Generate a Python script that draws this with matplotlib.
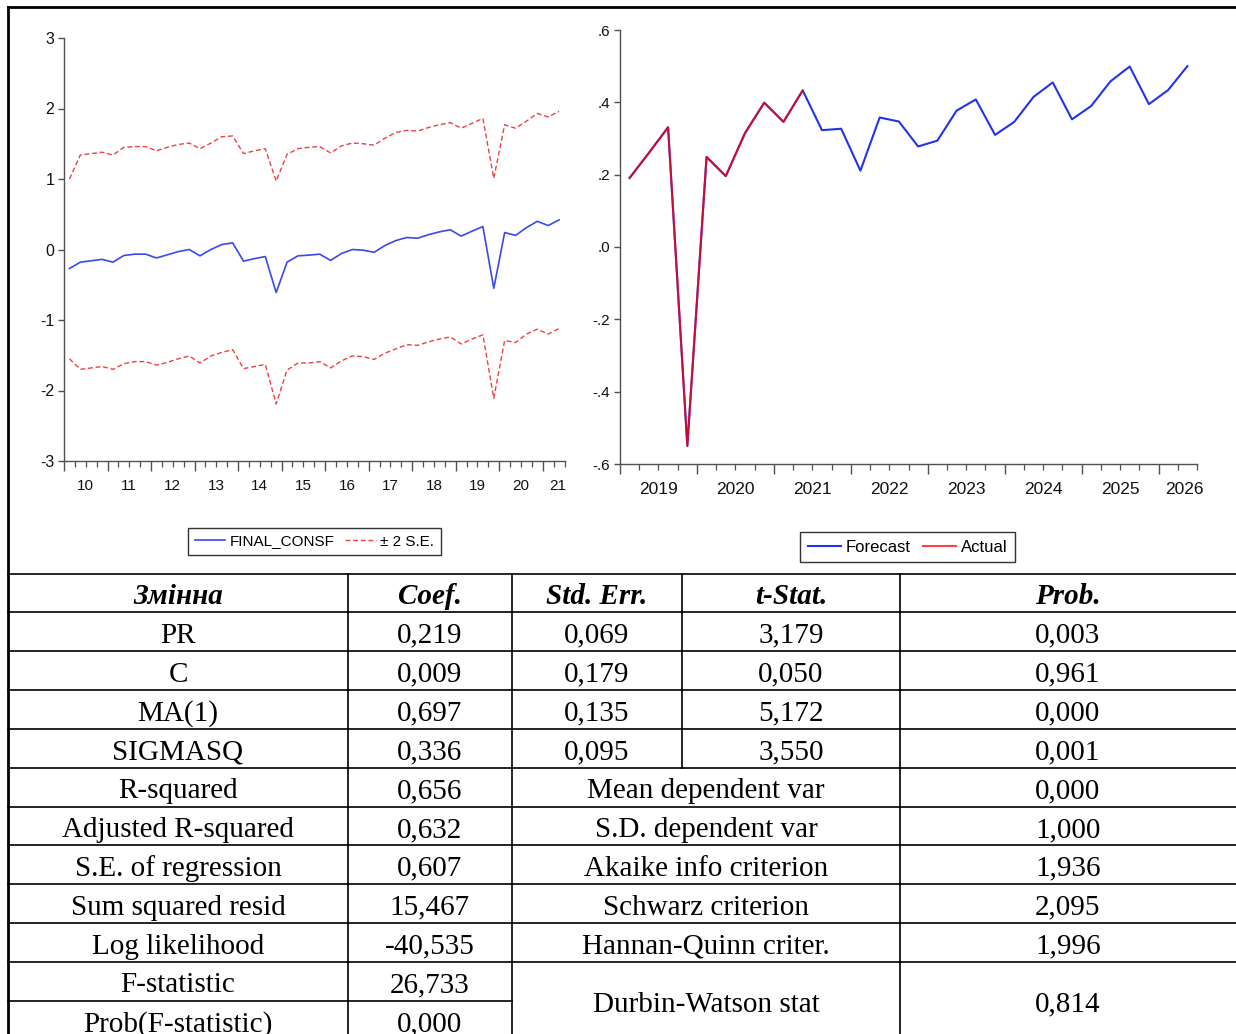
import matplotlib.pyplot as plt
import matplotlib.transforms as mtransforms

plt.rcParams['axes.unicode_minus'] = False

LABEL_FONT = ['Liberation Sans', 'DejaVu Sans']
TABLE_FONT = ['Liberation Serif', 'DejaVu Serif']

# static forecast, quarterly 2010Q1 - 2021Q2
left_start_year = 2010
final_consf = [-0.27, -0.18, -0.16, -0.14, -0.18, -0.085, -0.066, -0.066, -0.12, -0.075,
               -0.03, 0.0, -0.09, 0.0, 0.07, 0.094, -0.165, -0.13, -0.10, -0.61,
               -0.18, -0.09, -0.08, -0.066, -0.155, -0.057, 0.0, -0.01, -0.04, 0.057,
               0.127, 0.17, 0.16, 0.21, 0.25, 0.28, 0.19, 0.26, 0.325, -0.55,
               0.24, 0.20, 0.31, 0.40, 0.34, 0.42]
upper_2se = [1.00, 1.34, 1.36, 1.38, 1.34, 1.45, 1.46, 1.46, 1.40, 1.45,
             1.49, 1.51, 1.43, 1.51, 1.60, 1.61, 1.36, 1.40, 1.43, 0.97,
             1.35, 1.43, 1.45, 1.46, 1.37, 1.47, 1.51, 1.50, 1.48, 1.58,
             1.66, 1.69, 1.68, 1.73, 1.77, 1.80, 1.72, 1.79, 1.86, 1.01,
             1.77, 1.72, 1.82, 1.93, 1.88, 1.96]
lower_2se = [-1.55, -1.70, -1.68, -1.66, -1.70, -1.62, -1.59, -1.59, -1.64, -1.60,
             -1.55, -1.51, -1.61, -1.51, -1.46, -1.42, -1.69, -1.66, -1.63, -2.19,
             -1.71, -1.61, -1.61, -1.59, -1.68, -1.58, -1.51, -1.52, -1.56, -1.47,
             -1.41, -1.35, -1.36, -1.31, -1.27, -1.24, -1.34, -1.27, -1.21, -2.11,
             -1.29, -1.32, -1.20, -1.13, -1.20, -1.12]
left_year_labels = ["10", "11", "12", "13", "14", "15", "16", "17", "18", "19", "20", "21"]
left_yticks = [3, 2, 1, 0, -1, -2, -3]
left_ytick_labels = ["3", "2", "1", "0", "-1", "-2", "-3"]

# forecast vs actual, quarterly 2019Q1 - 2026Q2
right_start_year = 2019
forecast = [0.191, 0.26, 0.331, -0.55, 0.249, 0.196, 0.315, 0.399, 0.346, 0.433,
            0.323, 0.327, 0.211, 0.358, 0.347, 0.278, 0.294, 0.377, 0.408, 0.310,
            0.346, 0.415, 0.455, 0.353, 0.390, 0.458, 0.499, 0.395, 0.434, 0.500]
actual = [0.191, 0.26, 0.331, -0.55, 0.249, 0.196, 0.315, 0.399, 0.346, 0.433]
right_year_labels = ["2019", "2020", "2021", "2022", "2023", "2024", "2025", "2026"]
right_yticks = [0.6, 0.4, 0.2, 0.0, -0.2, -0.4, -0.6]
right_ytick_labels = [".6", ".4", ".2", ".0", "-.2", "-.4", "-.6"]

# estimation output
table_header = ["Змінна", "Coef.", "Std. Err.", "t-Stat.", "Prob."]
coef_rows = [
    ["PR", "0,219", "0,069", "3,179", "0,003"],
    ["C", "0,009", "0,179", "0,050", "0,961"],
    ["MA(1)", "0,697", "0,135", "5,172", "0,000"],
    ["SIGMASQ", "0,336", "0,095", "3,550", "0,001"],
]
stat_rows = [
    ["R-squared", "0,656", "Mean dependent var", "0,000"],
    ["Adjusted R-squared", "0,632", "S.D. dependent var", "1,000"],
    ["S.E. of regression", "0,607", "Akaike info criterion", "1,936"],
    ["Sum squared resid", "15,467", "Schwarz criterion", "2,095"],
    ["Log likelihood", "-40,535", "Hannan-Quinn criter.", "1,996"],
]
fstat_rows = [["F-statistic", "26,733"], ["Prob(F-statistic)", "0,000"]]
dw_stat = ["Durbin-Watson stat", "0,814"]


def quarter_x(start, n):
    return [start + (i + 0.5) / 4 for i in range(n)]


def style_eviews_axis(ax, start, n_quarters, year_labels, label_size, label_pad):
    for side in ("top", "right"):
        ax.spines[side].set_visible(False)
    for side in ("left", "bottom"):
        ax.spines[side].set_color("#505050")
        ax.spines[side].set_linewidth(1.0)
    end = start + n_quarters / 4
    ax.set_xlim(start, end)
    years = list(range(start, start + len(year_labels)))
    ax.set_xticks(years)
    ax.set_xticks([start + q / 4 for q in range(n_quarters + 1)], minor=True)
    ax.xaxis.set_ticklabels([])
    ax.tick_params(axis="x", which="major", direction="out", length=7, width=1.0, color="#505050")
    ax.tick_params(axis="x", which="minor", direction="out", length=4, width=0.9, color="#505050")
    ax.tick_params(axis="y", direction="out", length=4, width=1.0, color="#505050", pad=3)
    trans = mtransforms.blended_transform_factory(ax.transData, ax.transAxes)
    for yr, lab in zip(years, year_labels):
        cx = yr + 0.5 if yr + 1 <= end else yr + (end - yr) * 0.67
        ax.text(cx, -label_pad, lab, transform=trans, ha="center", va="top",
                fontsize=label_size, family=LABEL_FONT, color="#111111")


fig = plt.figure(figsize=(12.36, 10.34), dpi=100)

# left panel: forecast with +/- 2 S.E. band
axl = fig.add_axes([64 / 1236, 1 - 461 / 1034, 500.5 / 1236, 423 / 1034])
xl = quarter_x(left_start_year, len(final_consf))
axl.plot(xl, upper_2se, color="#f04040", lw=1.0, ls=(0, (3.5, 2)))
axl.plot(xl, lower_2se, color="#f04040", lw=1.0, ls=(0, (3.5, 2)))
axl.plot(xl, final_consf, color="#3a48f0", lw=1.2)
axl.set_ylim(-3, 3)
axl.set_yticks(left_yticks)
axl.set_yticklabels(left_ytick_labels, fontsize=11.5, family=LABEL_FONT, color="#111111")
style_eviews_axis(axl, left_start_year, len(final_consf), left_year_labels, 11, 0.042)

# right panel: forecast and actual
axr = fig.add_axes([620 / 1236, 1 - 464 / 1034, 577 / 1236, 434 / 1034])
xr = quarter_x(right_start_year, len(forecast))
axr.plot(xr, forecast, color="#2233ee", lw=1.5)
axr.plot(quarter_x(right_start_year, len(actual)), actual, color="red", alpha=0.75, lw=1.5)
axr.set_ylim(-0.6, 0.6)
axr.set_yticks(right_yticks)
axr.set_yticklabels(right_ytick_labels, fontsize=11, family=LABEL_FONT, color="#111111")
style_eviews_axis(axr, right_start_year, len(forecast), right_year_labels, 12.5, 0.042)

leg_kw = dict(loc="center", ncol=2, frameon=True, fancybox=False, framealpha=1,
              edgecolor="#333333", handlelength=2.0, handletextpad=0.3,
              columnspacing=0.7, borderpad=0.45, borderaxespad=0)
hl = [plt.Line2D([], [], color="#3a48f0", lw=1.2),
      plt.Line2D([], [], color="#f04040", lw=1.0, ls=(0, (3.5, 2)))]
fig.legend(hl, ["FINAL_CONSF", "± 2 S.E."], bbox_to_anchor=(314.5 / 1236, 1 - 541.5 / 1034),
           prop={"family": LABEL_FONT, "size": 11}, **leg_kw)
hr = [plt.Line2D([], [], color="#2233ee", lw=1.5),
      plt.Line2D([], [], color="red", alpha=0.75, lw=1.5)]
fig.legend(hr, ["Forecast", "Actual"], bbox_to_anchor=(907.5 / 1236, 1 - 547 / 1034),
           prop={"family": LABEL_FONT, "size": 12}, **leg_kw)

# table + frame, drawn in pixel coordinates
tab = fig.add_axes([0, 0, 1, 1], zorder=-1)
tab.set_xlim(0, 1236)
tab.set_ylim(1034, 0)
tab.axis("off")

col_edges = [8, 348, 512, 682, 900, 1236]
row_top = 573.5
row_h = 38.85
lw_tab = 1.2

tab.plot([8, 1236], [7, 7], color="black", lw=2.0)
tab.plot([8, 8], [7, 1034], color="black", lw=2.0)


def row_y(r):
    return row_top + r * row_h


def cell_text(x0, x1, r0, r1, s, **kw):
    tab.text((x0 + x1) / 2, (row_y(r0) + row_y(r1)) / 2 + 4, s, ha="center", va="center",
             family=TABLE_FONT, fontsize=21, color="black", **kw)


# horizontal rules
for r in range(11):
    tab.plot([8, 1236], [row_y(r), row_y(r)], color="black", lw=lw_tab)
tab.plot([8, col_edges[2]], [row_y(11), row_y(11)], color="black", lw=lw_tab)

# header and coefficient rows
for r, row in enumerate([table_header] + coef_rows):
    for c, s in enumerate(row):
        if r == 0:
            cell_text(col_edges[c], col_edges[c + 1], r, r + 1, s, weight="bold", style="italic")
        else:
            cell_text(col_edges[c], col_edges[c + 1], r, r + 1, s)
    for x in col_edges[1:5]:
        tab.plot([x, x], [row_y(r), row_y(r + 1)], color="black", lw=lw_tab)

# summary statistics rows
for k, row in enumerate(stat_rows):
    r = 5 + k
    cell_text(col_edges[0], col_edges[1], r, r + 1, row[0])
    cell_text(col_edges[1], col_edges[2], r, r + 1, row[1])
    cell_text(col_edges[2], col_edges[4], r, r + 1, row[2])
    cell_text(col_edges[4], col_edges[5], r, r + 1, row[3])
    for x in (col_edges[1], col_edges[2], col_edges[4]):
        tab.plot([x, x], [row_y(r), row_y(r + 1)], color="black", lw=lw_tab)

for k, row in enumerate(fstat_rows):
    r = 10 + k
    cell_text(col_edges[0], col_edges[1], r, r + 1, row[0])
    cell_text(col_edges[1], col_edges[2], r, r + 1, row[1])
cell_text(col_edges[2], col_edges[4], 10, 12, dw_stat[0])
cell_text(col_edges[4], col_edges[5], 10, 12, dw_stat[1])
for x in (col_edges[1], col_edges[2], col_edges[4]):
    tab.plot([x, x], [row_y(10), row_y(12)], color="black", lw=lw_tab)

fig.savefig("out.png", dpi=100)
